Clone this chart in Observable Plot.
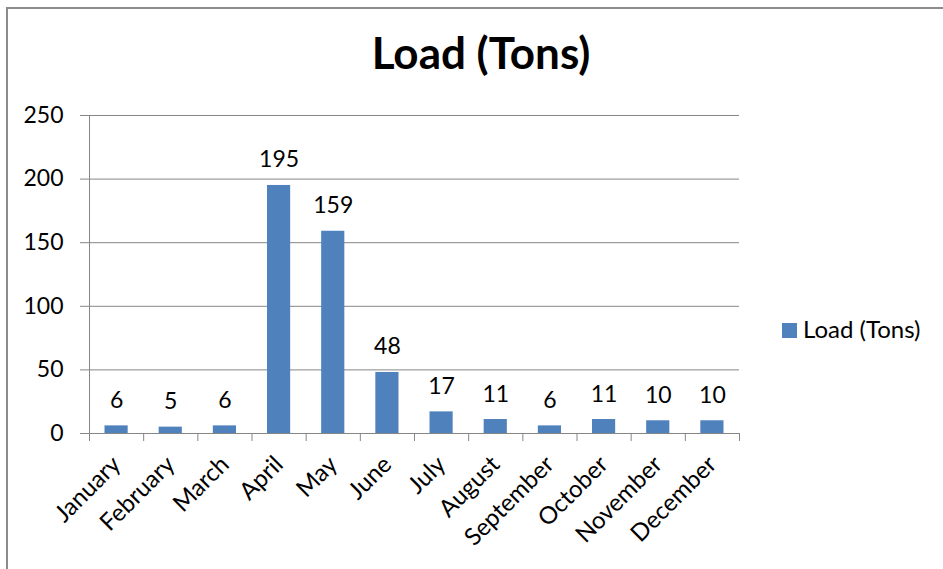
<!DOCTYPE html>
<html>
<head>
<meta charset="utf-8">
<script src="https://cdn.jsdelivr.net/npm/d3@7"></script>
<script src="https://cdn.jsdelivr.net/npm/@observablehq/plot@0.6"></script>
<style>
  html, body { margin: 0; padding: 0; background: #fff; }
  #wrap { position: relative; width: 943px; height: 569px; overflow: hidden; font-family: Lato, "Open Sans", sans-serif; }
  #frame { position: absolute; left: 6px; top: 7px; width: 1000px; height: 1000px; border-left: 2px solid #8c8c8c; border-top: 2px solid #8c8c8c; box-sizing: border-box; }
  #title { position: absolute; left: 0; width: 962px; top: 26px; text-align: center; font-weight: bold; font-size: 44px; line-height: 52px; color: #000; }
  #legend { position: absolute; left: 782px; top: 314px; display: flex; align-items: center; font-size: 24px; line-height: 30px; color: #000; }
  #legend .sw { width: 15px; height: 15px; background: #4f81bd; margin-right: 6px; margin-top: 3px; }
  #chart { position: absolute; left: 0; top: 0; }
</style>
</head>
<body>
<div id="wrap">
  <div id="frame"></div>
  <div id="chart"></div>
  <div id="title">Load (Tons)</div>
  <div id="legend"><div class="sw"></div><span>Load (Tons)</span></div>
</div>
<script>
const months = ["January","February","March","April","May","June","July","August","September","October","November","December"];
const loads = [6, 5, 6, 195, 159, 48, 17, 11, 6, 11, 10, 10];
const yTicks = [0, 50, 100, 150, 200, 250];

const data = months.map((m, i) => ({month: m, i, load: loads[i]}));
const grey = "#868686";

const chart = Plot.plot({
  width: 943,
  height: 569,
  marginLeft: 89,
  marginRight: 204,
  marginTop: 115,
  marginBottom: 136,
  style: {fontFamily: "Lato, 'Open Sans', sans-serif", color: "#000", background: "transparent"},
  x: {type: "linear", domain: [0, months.length]},
  y: {domain: [0, 250]},
  marks: [
    Plot.gridY(yTicks, {stroke: grey, strokeOpacity: 1}),
    Plot.ruleX([0], {stroke: grey}),
    Plot.rectY(data, {x1: d => d.i, x2: d => d.i + 1, y: "load", fill: "#4f81bd", insetLeft: 15.5, insetRight: 15.5}),
    Plot.text(data, {x: d => d.i + 0.5, y: "load", text: d => String(d.load), dy: -18, lineAnchor: "bottom", fontSize: 23, fill: "#000"}),
    Plot.axisY({ticks: yTicks, tickSize: 9, tickPadding: 17, stroke: grey, fontSize: 23, fill: "#000", label: null}),
    Plot.axisX({ticks: d3.range(months.length + 1), tickSize: 8, tickFormat: () => "", stroke: grey, label: null}),
    Plot.axisX({ticks: months.map((m, i) => i + 0.5), tickSize: 0, tickPadding: 27, tickRotate: -45, tickFormat: d => months[Math.floor(d)], fontSize: 24, fill: "#000", label: null})
  ]
});
document.getElementById("chart").appendChild(chart);
</script>
</body>
</html>
